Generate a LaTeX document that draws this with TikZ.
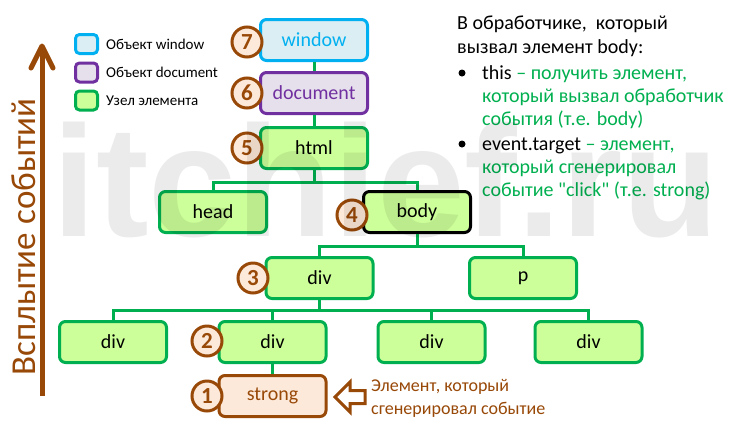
\documentclass[tikz,border=0pt]{standalone}
\usepackage{fontspec}
\setmainfont{Carlito}
\newfontfamily\wmfont{Liberation Sans}
\definecolor{gr}{HTML}{00B050}
\definecolor{lgr}{HTML}{CCFF99}
\definecolor{bl}{HTML}{00B0F0}
\definecolor{lbl}{HTML}{DAEEF3}
\definecolor{pu}{HTML}{7030A0}
\definecolor{lpu}{HTML}{E6E0EC}
\definecolor{br}{HTML}{984807}
\definecolor{pe}{HTML}{FDE9D9}
\begin{document}
\begin{tikzpicture}[x=1pt,y=-1pt,
  box/.style={draw=gr, fill=lgr, line width=3pt, rounded corners=6pt, minimum width=107pt, minimum height=41pt, inner sep=0pt, font=\fontsize{20}{24}\selectfont},
  num/.style={circle, draw=br, fill=pe, line width=3pt, minimum size=30pt, inner sep=0pt, text=br, font=\fontsize{23}{24}\selectfont\bfseries},
  conn/.style={draw=gr, line width=3pt},
  lbox/.style={line width=3pt, rounded corners=4pt, minimum width=22pt, minimum height=19pt, inner sep=0pt},
  ltxt/.style={anchor=base west, inner sep=0pt, font=\fontsize{15}{18}\selectfont},
  rtxt/.style={anchor=base west, inner sep=0pt, font=\fontsize{20}{23}\selectfont},
  gtxt/.style={rtxt, text=gr},
  btxt/.style={anchor=base west, inner sep=0pt, text=br, font=\fontsize{18}{22}\selectfont}]
\useasboundingbox (0,0) rectangle (749,432);
\fill[white] (0,0) rectangle (749,432);

% tree nodes
\node[box, draw=bl, fill=lbl, text=bl] (window) at (314,40) {window};
\node[box, draw=pu, fill=lpu, text=pu] (document) at (314,93) {document};
\node[box] (html) at (314,148) {html};
\node[box] (head) at (213,212) {head};
\node[box, draw=black] (body) at (417,212) {body};
\node[box] (div3) at (319.5,278) {div};
\node[box] (p) at (523,278) {p};
\node[box] (c1) at (113,342) {div};
\node[box] (c2) at (272.5,342) {div};
\node[box] (c3) at (431.5,342) {div};
\node[box] (c4) at (588.5,342) {div};
\node[box, draw=br, fill=pe, text=br] (strong) at (272.5,396) {strong};

% connectors
\coordinate (b1) at (314,182);
\coordinate (b2) at (417,246);
\coordinate (b3) at (319.5,310);
\draw[conn] (window) -- (document);
\draw[conn] (document) -- (html);
\draw[conn] (html.south) -- (b1);
\draw[conn] (b1) -| (head.north);
\draw[conn] (b1) -| (body.north);
\draw[conn] (body.south) -- (b2);
\draw[conn] (b2) -| (div3.north);
\draw[conn] (b2) -| (p.north);
\draw[conn] (div3.south) -- (b3);
\draw[conn] (b3) -| (c1.north);
\draw[conn] (b3) -| (c2.north);
\draw[conn] (b3) -| (c3.north);
\draw[conn] (b3) -| (c4.north);
\draw[conn] (c2.south) -- (strong.north);

% number circles
\node[num] (n7) at (247,42) {7};
\node[num] (n6) at (247,93) {6};
\node[num] (n5) at (247,148) {5};
\node[num] (n4) at (352,215) {4};
\node[num] (n3) at (253,278) {3};
\node[num] (n2) at (207,341) {2};
\node[num] (n1) at (207,396) {1};

% legend
\node[lbox, draw=bl, fill=lbl] (lg1) at (86.5,44) {};
\node[lbox, draw=pu, fill=lpu] (lg2) at (86.5,72.5) {};
\node[lbox, draw=gr, fill=lgr] (lg3) at (86.5,100.5) {};
\node[ltxt] (lt1) at (106,49) {Объект window};
\node[ltxt] (lt2) at (106,77) {Объект document};
\node[ltxt] (lt3) at (106,105) {Узел элемента};

% left arrow
\coordinate (la0) at (42,396);
\coordinate (la1) at (42,46);
\draw[br, line width=5pt] (la0) -- (la1);
\draw[br, line width=5pt, line join=round, line cap=round] (31,68) -- (la1) -- (53,68);
\node[rotate=90, text=br, font=\fontsize{35}{40}\selectfont, inner sep=0pt] (ltitle) at (24,237) {Всплытие событий};

% right text
\node[rtxt] (h1) at (457,29) {В обработчике,\ \ который};
\node[rtxt] (h2) at (457,53) {вызвал элемент body:};
\node[circle, fill=black, minimum size=7pt, inner sep=0pt] (bu1) at (462,73) {};
\node[rtxt] (r1) at (482,79) {this \textcolor{gr}{– получить элемент,}};
\node[gtxt] (r2) at (482,102) {который вызвал обработчик};
\node[gtxt] (r3) at (482,125) {события (т.е. body)};
\node[circle, fill=black, minimum size=7pt, inner sep=0pt] (bu2) at (462,144) {};
\node[rtxt] (r4) at (482,150) {event.target \textcolor{gr}{– элемент,}};
\node[gtxt] (r5) at (482,173) {который сгенерировал};
\node[gtxt] (r6) at (482,196) {событие \textquotedbl click\textquotedbl\ (т.е. strong)};

% bottom hollow arrow
\draw[br, line width=3pt, fill=white, line join=miter] (335,397) -- (350,382) -- (350,390.5) -- (365,390.5) -- (365,403.5) -- (350,403.5) -- (350,412) -- cycle;
\node[btxt] (bt1) at (371,391) {Элемент, который};
\node[btxt] (bt2) at (371,414) {сгенерировал событие};

% watermark
\node[anchor=base west, inner sep=0pt, text=black, text opacity=0.08, font=\fontsize{158}{160}\wmfont\bfseries] (wm) at (52,236) {itchief.ru};
\end{tikzpicture}
\end{document}
